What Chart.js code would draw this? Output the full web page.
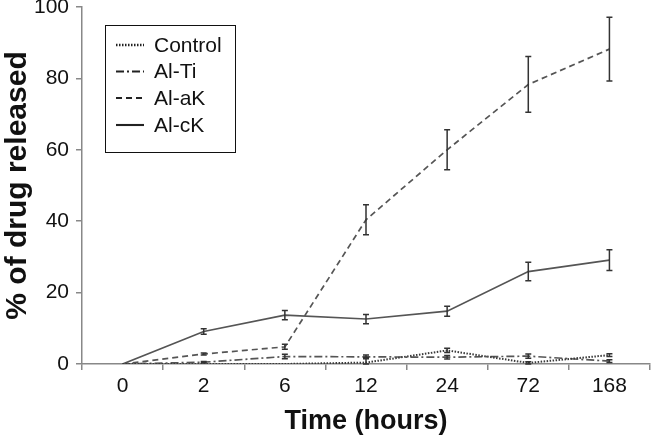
<!DOCTYPE html>
<html>
<head>
<meta charset="utf-8">
<script src="https://cdn.jsdelivr.net/npm/chart.js@4.4.1/dist/chart.umd.min.js"></script>
<style>
  html, body { margin: 0; padding: 0; background: #fff; }
  #wrap { width: 651px; height: 438px; position: relative; }
</style>
</head>
<body>
<div id="wrap"><canvas id="c" width="651" height="438"></canvas></div>
<script>
const categories = ['0', '2', '6', '12', '24', '72', '168'];

const controlValues = [0, 0, 0, 0.4, 3.8, 0.3, 2.5];
const controlErrors = [0, 0, 0, 1.4, 0.6, 0.3, 0.4];

const alTiValues = [0, 0.5, 2.1, 2.0, 1.9, 2.2, 0.8];
const alTiErrors = [0, 0.2, 0.6, 0.5, 0.5, 0.6, 0.4];

const alAkValues = [0, 2.8, 4.8, 40.4, 60.0, 78.3, 88.2];
const alAkErrors = [0, 0.3, 0.7, 4.2, 5.6, 7.8, 8.9];

const alCkValues = [0, 9.1, 13.7, 12.6, 14.8, 25.9, 29.1];
const alCkErrors = [0, 0.8, 1.3, 1.3, 1.4, 2.6, 2.9];

const yTicks = [0, 20, 40, 60, 80, 100];

const seriesNames = ['Control', 'Al-Ti', 'Al-aK', 'Al-cK'];

const lineColor = '#555555';
const FONT = '"Liberation Sans", Arial, sans-serif';

const datasets = [
  { label: seriesNames[0], data: controlValues, errors: controlErrors, borderDash: [1.5, 1.5], borderWidth: 2, borderColor: '#3a3a3a' },
  { label: seriesNames[1], data: alTiValues, errors: alTiErrors, borderDash: [8, 3, 2, 3], borderWidth: 1.7, borderColor: lineColor },
  { label: seriesNames[2], data: alAkValues, errors: alAkErrors, borderDash: [6, 4], borderWidth: 1.7, borderColor: lineColor },
  { label: seriesNames[3], data: alCkValues, errors: alCkErrors, borderDash: [], borderWidth: 1.7, borderColor: lineColor }
].map(d => Object.assign({ pointRadius: 0, pointHoverRadius: 0, tension: 0, fill: false }, d));

const errorBars = {
  id: 'errorBars',
  afterDatasetsDraw(chart) {
    const ctx = chart.ctx;
    const ys = chart.scales.y;
    ctx.save();
    ctx.strokeStyle = '#333';
    ctx.lineWidth = 1.5;
    ctx.setLineDash([]);
    chart.data.datasets.forEach((ds, i) => {
      const meta = chart.getDatasetMeta(i);
      meta.data.forEach((pt, j) => {
        const e = ds.errors[j];
        if (!e) return;
        const v = ds.data[j];
        const x = pt.x;
        const y1 = ys.getPixelForValue(v + e);
        const y2 = ys.getPixelForValue(Math.max(v - e, 0));
        ctx.beginPath();
        ctx.moveTo(x, y1); ctx.lineTo(x, y2);
        ctx.moveTo(x - 3, y1); ctx.lineTo(x + 3, y1);
        ctx.moveTo(x - 3, y2); ctx.lineTo(x + 3, y2);
        ctx.stroke();
      });
    });
    ctx.restore();
  }
};

const boxLegend = {
  id: 'boxLegend',
  afterDraw(chart) {
    const ctx = chart.ctx;
    ctx.save();
    ctx.strokeStyle = '#111';
    ctx.lineWidth = 1;
    ctx.setLineDash([]);
    ctx.strokeRect(105.5, 25.5, 130, 127);
    const rows = [45, 71.5, 98, 125];
    ctx.font = '21px ' + FONT;
    ctx.fillStyle = '#111';
    ctx.textBaseline = 'middle';
    chart.data.datasets.forEach((ds, i) => {
      const y = rows[i];
      ctx.beginPath();
      ctx.strokeStyle = '#222';
      ctx.lineWidth = ds.borderWidth + 0.4;
      ctx.setLineDash(ds.borderDash);
      ctx.moveTo(116, y); ctx.lineTo(144, y);
      ctx.stroke();
      ctx.setLineDash([]);
      ctx.fillText(ds.label, 154, y + 1);
    });
    ctx.restore();
  }
};

new Chart(document.getElementById('c'), {
  type: 'line',
  data: { labels: categories, datasets: datasets },
  options: {
    responsive: false,
    animation: false,
    events: [],
    layout: { padding: { left: 0, right: 1, top: 7, bottom: 0 } },
    plugins: { legend: { display: false }, tooltip: { enabled: false } },
    scales: {
      x: {
        type: 'category',
        offset: true,
        grid: { display: true, drawOnChartArea: false, offset: true, tickLength: 6, color: '#888', lineWidth: 1.5 },
        border: { display: true, color: '#888', width: 1.5 },
        ticks: { font: { size: 21, family: FONT }, color: '#111', padding: 4, maxRotation: 0 },
        title: { display: true, text: 'Time (hours)', font: { size: 27, weight: 'bold', family: FONT }, color: '#111', padding: { top: 0, bottom: 0 } },
        afterFit(s) { s.height = 74; s.paddingLeft = 0; s.paddingRight = 0; }
      },
      y: {
        min: 0, max: 100,
        afterBuildTicks(s) { s.ticks = yTicks.map(v => ({ value: v })); },
        grid: { display: true, drawOnChartArea: false, tickLength: 6, color: '#888', lineWidth: 1.5 },
        border: { display: true, color: '#888', width: 1.5 },
        ticks: { font: { size: 21, family: FONT }, color: '#111', padding: 7 },
        title: { display: true, text: '% of drug released', font: { size: 30, weight: 'bold', family: FONT }, color: '#111', padding: { top: 0, bottom: 2 } },
        afterFit(s) { s.width = 82; s.paddingTop = 0; s.paddingBottom = 0; }
      }
    }
  },
  plugins: [errorBars, boxLegend]
});
</script>
</body>
</html>
